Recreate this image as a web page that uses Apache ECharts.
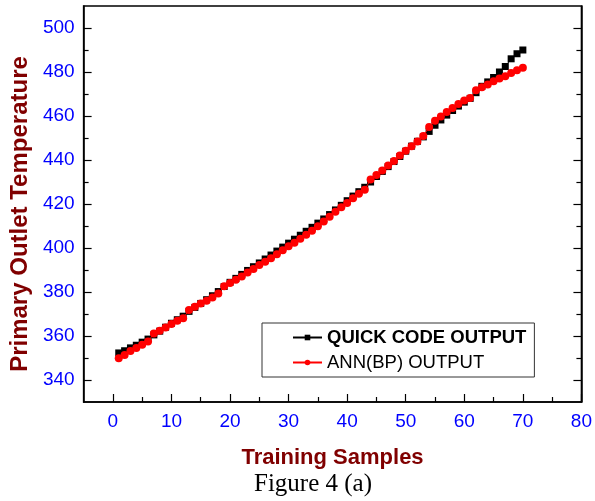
<!DOCTYPE html>
<html>
<head>
<meta charset="utf-8">
<script src="https://cdn.jsdelivr.net/npm/echarts@6/dist/echarts.min.js"></script>
<style>
  html, body { margin: 0; padding: 0; background: #fff; }
  #chart { width: 595px; height: 501px; }
</style>
</head>
<body>
<div id="chart"></div>
<script>
// samples 1..70
const samples = []
for (let i = 1; i <= 70; i++) samples.push(i)

const quickCode = [
  352.3, 353.3, 354.6, 355.8, 357.2, 358.6, 360.5, 362.2, 364.0, 365.8,
  367.4, 369.0, 371.2, 373.0, 374.8, 376.5, 378.3, 380.2, 382.5, 384.4,
  386.2, 388.0, 389.8, 391.5, 393.2, 395.0, 396.8, 398.6, 400.4, 402.2,
  404.0, 405.8, 407.6, 409.4, 411.3, 413.2, 415.2, 417.3, 419.4, 421.5,
  423.6, 425.6, 427.6, 430.0, 432.5, 434.8, 437.0, 439.3, 441.6, 444.0,
  446.3, 448.5, 450.5, 453.0, 455.8, 458.2, 460.4, 462.5, 464.5, 466.3,
  468.0, 470.6, 473.5, 475.5, 477.5, 480.0, 482.5, 486.0, 488.3, 490.0
]
const annBP = [
  349.9, 351.4, 353.2, 354.5, 356.0, 357.5, 361.1, 362.4, 363.9, 365.4,
  366.9, 368.1, 371.8, 373.3, 374.8, 376.0, 377.5, 379.3, 382.6, 384.1,
  385.6, 387.1, 388.9, 390.5, 392.3, 393.8, 395.3, 397.2, 399.0, 400.8,
  402.4, 404.2, 406.0, 407.8, 409.9, 412.1, 414.2, 416.5, 418.5, 420.4,
  422.6, 424.7, 426.5, 431.1, 433.2, 435.2, 437.5, 439.6, 442.0, 444.2,
  446.3, 448.4, 450.9, 455.0, 457.8, 459.8, 461.8, 463.6, 465.5, 467.0,
  468.2, 471.7, 473.1, 474.3, 475.8, 477.0, 478.1, 479.6, 480.8, 481.9
]

// ticks
const xMajor = [0, 10, 20, 30, 40, 50, 60, 70, 80]
const xMinor = [5, 15, 25, 35, 45, 55, 65, 75]
const yMajor = [340, 360, 380, 400, 420, 440, 460, 480, 500]
const yMinor = [350, 370, 390, 410, 430, 450, 470, 490]

const font = 'Liberation Sans'
const black = '#000'

function pairs(ys) {
  return samples.map((x, i) => [x, ys[i]])
}

function xAx(ticks, len, withLabels) {
  return {
    type: 'value', min: -5, max: 80, position: 'bottom',
    axisLine: { show: withLabels, lineStyle: { color: black, width: 1.5 } },
    axisTick: { show: true, inside: true, length: len, customValues: ticks,
      lineStyle: { color: black, width: 1.2 } },
    axisLabel: withLabels
      ? { show: true, customValues: ticks, color: '#0000ff', fontSize: 19, fontFamily: font, margin: 10 }
      : { show: false },
    splitLine: { show: false }
  }
}

function yAx(ticks, len, pos, withLabels, lineShown) {
  return {
    type: 'value', min: 330, max: 510, position: pos,
    axisLine: { show: lineShown, onZero: false, lineStyle: { color: black, width: 1.5 } },
    axisTick: { show: true, inside: true, length: len, customValues: ticks,
      lineStyle: { color: black, width: 1.2 } },
    axisLabel: withLabels
      ? { show: true, customValues: ticks, color: '#0000ff', fontSize: 19, fontFamily: font, margin: 9 }
      : { show: false },
    splitLine: { show: false }
  }
}

const xMain = xAx(xMajor, 8, true)
xMain.name = 'Training Samples'
xMain.nameLocation = 'middle'
xMain.nameGap = 45
xMain.nameTextStyle = { color: '#800000', fontSize: 22, fontWeight: 'bold', fontFamily: font }

const yMain = yAx(yMajor, 8, 'left', true, true)
yMain.name = 'Primary Outlet Temperature'
yMain.nameLocation = 'middle'
yMain.nameGap = 51
yMain.nameTextStyle = { color: '#800000', fontSize: 24, fontWeight: 'bold', fontFamily: font,
  padding: [0, 20, 0, 0] }

const chart = echarts.init(document.getElementById('chart'))
chart.setOption({
  animation: false,
  backgroundColor: '#fff',
  title: {
    text: 'Figure 4 (a)',
    left: 254, top: 472, padding: 0,
    textStyle: { fontFamily: 'Liberation Serif', fontSize: 25, fontWeight: 'normal', color: black }
  },
  grid: {
    left: 82, right: 13, top: 6, bottom: 99,
    show: true, borderColor: black, borderWidth: 1.5, backgroundColor: 'transparent'
  },
  legend: {
    orient: 'vertical',
    left: 262, top: 323,
    padding: [5, 8, 5, 30],
    borderColor: '#333', borderWidth: 1,
    itemWidth: 29, itemHeight: 7, itemGap: 6,
    textStyle: { fontSize: 18.5, color: black, fontFamily: font },
    data: [
      { name: 'QUICK CODE OUTPUT', textStyle: { fontWeight: 'bold' } },
      { name: 'ANN(BP) OUTPUT' }
    ]
  },
  xAxis: [xMain, xAx(xMinor, 5, false)],
  yAxis: [
    yMain,
    yAx(yMinor, 5, 'left', false, false),
    yAx(yMajor, 8, 'right', false, true),
    yAx(yMinor, 5, 'right', false, false)
  ],
  series: [
    {
      name: 'QUICK CODE OUTPUT',
      type: 'line',
      data: pairs(quickCode),
      symbol: 'rect', symbolSize: 7,
      lineStyle: { color: black, width: 1 },
      itemStyle: { color: black },
      z: 2
    },
    {
      name: 'ANN(BP) OUTPUT',
      type: 'line',
      data: pairs(annBP),
      symbol: 'circle', symbolSize: 8,
      lineStyle: { color: '#ff0000', width: 1 },
      itemStyle: { color: '#ff0000' },
      z: 3
    }
  ]
})
</script>
</body>
</html>
